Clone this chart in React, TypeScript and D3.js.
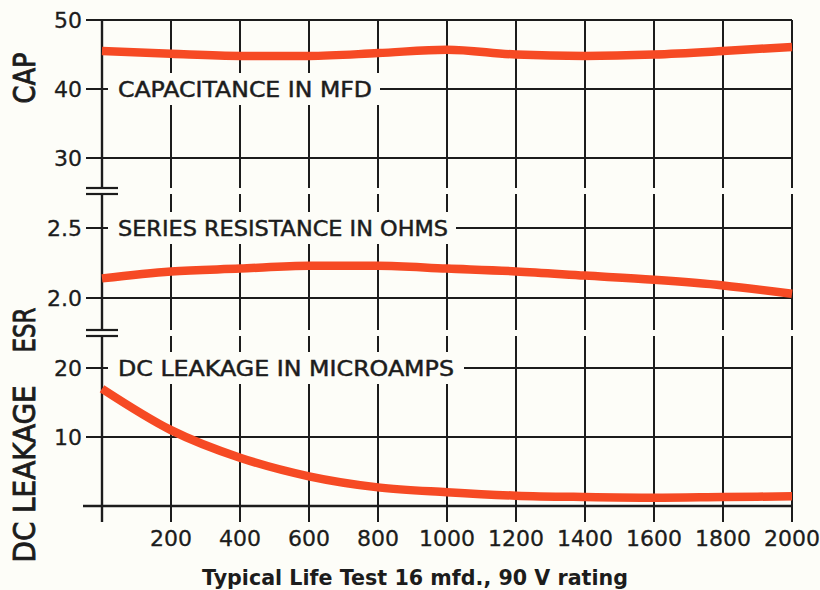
import React from 'react';
import * as d3 from 'd3';

// hours on life test
const hours = [0, 200, 400, 600, 800, 1000, 1200, 1400, 1600, 1800, 2000];
const capacitance = [45.5, 45.1, 44.8, 44.8, 45.2, 45.7, 45.0, 44.8, 45.0, 45.5, 46.1];
const esr = [2.14, 2.19, 2.21, 2.23, 2.23, 2.21, 2.19, 2.16, 2.13, 2.09, 2.03];
const leakage = [17.0, 11.0, 7.0, 4.3, 2.7, 2.0, 1.5, 1.3, 1.2, 1.3, 1.4];

const xTickLabels = [200, 400, 600, 800, 1000, 1200, 1400, 1600, 1800, 2000];
const capTicks = ['50', '40', '30'];
const esrTicks = ['2.5', '2.0'];
const leakTicks = ['20', '10'];

const BG = '#fdfdf8';
const INK = '#1c1c1c';
const RED = '#f64a24';
const FONT = '"DejaVu Sans", sans-serif';

const App = () => {
    const width = 820;
    const height = 590;

    const x = d3.scaleLinear().domain([0, 2000]).range([102, 792]);
    const capY = d3.scaleLinear().domain([30, 50]).range([158, 20]);
    const esrY = d3.scaleLinear().domain([2.0, 2.5]).range([298, 228]);
    const leakY = d3.scaleLinear().domain([0, 20]).range([506, 368]);

    const left = 86;
    const right = x(2000);
    const top = capY(50);
    const axisY = leakY(0);
    const tickBottom = axisY + 16;

    // axis breaks
    const breaks = [188, 330];
    // in-plot labels, each sits in a blank box that cuts the grid
    const labels = [
        { text: 'CAPACITANCE IN MFD', y: capY(40), len: 254, boxEnd: 380 },
        { text: 'SERIES RESISTANCE IN OHMS', y: esrY(2.5), len: 330, boxEnd: 456 },
        { text: 'DC LEAKAGE IN MICROAMPS', y: leakY(20), len: 336, boxEnd: 464 },
    ];

    const vSegments = (xp, isAxis) => {
        const gaps = breaks.map(b => [b, b + 6]);
        if (!isAxis) {
            labels.forEach(l => {
                if (xp < l.boxEnd) gaps.push([l.y - 16, l.y + 16]);
            });
        }
        gaps.sort((a, b) => a[0] - b[0]);
        const segs = [];
        let y0 = top;
        gaps.forEach(g => {
            segs.push([y0, g[0]]);
            y0 = g[1];
        });
        segs.push([y0, tickBottom]);
        return segs;
    };

    const line = (yScale) => d3.line()
        .x((d, i) => x(hours[i]))
        .y(d => yScale(d))
        .curve(d3.curveMonotoneX);

    const vLines = [0, ...xTickLabels].map(h => {
        const xp = x(h);
        return vSegments(xp, h === 0).map((s, i) =>
            <line key={h + '-' + i} x1={xp} x2={xp} y1={s[0]} y2={s[1]}
                stroke={INK} strokeWidth={h === 0 ? 2.4 : 2} />
        );
    });

    const hGrid = [capY(50), capY(30), esrY(2.0), leakY(10)].map(yp =>
        <line key={yp} x1={left} x2={right} y1={yp} y2={yp} stroke={INK} strokeWidth={2} />
    );

    const breakMarks = breaks.map(b =>
        <g key={b}>
            <line x1={left} x2={118} y1={b} y2={b} stroke={INK} strokeWidth={2.2} />
            <line x1={left} x2={118} y1={b + 6} y2={b + 6} stroke={INK} strokeWidth={2.2} />
        </g>
    );

    const labelBoxes = labels.map(l =>
        <g key={l.text}>
            <line x1={left} x2={108} y1={l.y} y2={l.y} stroke={INK} strokeWidth={2} />
            <line x1={l.boxEnd} x2={right} y1={l.y} y2={l.y} stroke={INK} strokeWidth={2} />
            <text x={118} y={l.y + 8} fontSize={22} fontFamily={FONT} fill={INK}
                stroke={INK} strokeWidth={0.5}
                textLength={l.len} lengthAdjust="spacingAndGlyphs">{l.text}</text>
        </g>
    );

    const yLabel = (txt, yp) =>
        <text key={txt + yp} x={82} y={yp + 8} textAnchor="end" fontSize={22}
            fontFamily={FONT} fill={INK} stroke={INK} strokeWidth={0.3}>{txt}</text>;

    const yTickText = [
        ...capTicks.map(t => yLabel(t, capY(+t))),
        ...esrTicks.map(t => yLabel(t, esrY(+t))),
        ...leakTicks.map(t => yLabel(t, leakY(+t))),
    ];

    const xTickText = xTickLabels.map(h =>
        <text key={h} x={x(h)} y={546} textAnchor="middle" fontSize={22}
            fontFamily={FONT} fill={INK} stroke={INK} strokeWidth={0.3}>{h}</text>
    );

    const axisTitle = (txt, cy, len) =>
        <text key={txt} transform={`translate(35,${cy}) rotate(-90)`} textAnchor="middle"
            fontSize={31} fontFamily={FONT} fill={INK} stroke={INK} strokeWidth={0.9}
            textLength={len} lengthAdjust="spacingAndGlyphs">{txt}</text>;

    return (
        <svg width={width} height={height} style={{ position: 'absolute', left: 0, top: 0, background: BG }}>
            <rect width={width} height={height} fill={BG} />
            <g>{hGrid}</g>
            <line x1={83} x2={right} y1={axisY} y2={axisY} stroke={INK} strokeWidth={2.4} />
            <g>{vLines}</g>
            <g>{breakMarks}</g>
            <g>{labelBoxes}</g>
            <path d={line(capY)(capacitance)} fill="none" stroke={RED} strokeWidth={8.5} />
            <path d={line(esrY)(esr)} fill="none" stroke={RED} strokeWidth={8.5} />
            <path d={line(leakY)(leakage)} fill="none" stroke={RED} strokeWidth={8.5} />
            <g>{yTickText}</g>
            <g>{xTickText}</g>
            {axisTitle('CAP', 78, 51)}
            {axisTitle('ESR', 330, 45)}
            {axisTitle('DC LEAKAGE', 474, 177)}
            <text x={202} y={585} fontSize={21} fontWeight="bold" fontFamily={FONT} fill={INK}
                textLength={426} lengthAdjust="spacingAndGlyphs">Typical Life Test 16 mfd., 90 V rating</text>
        </svg>
    );
};

export default App;
